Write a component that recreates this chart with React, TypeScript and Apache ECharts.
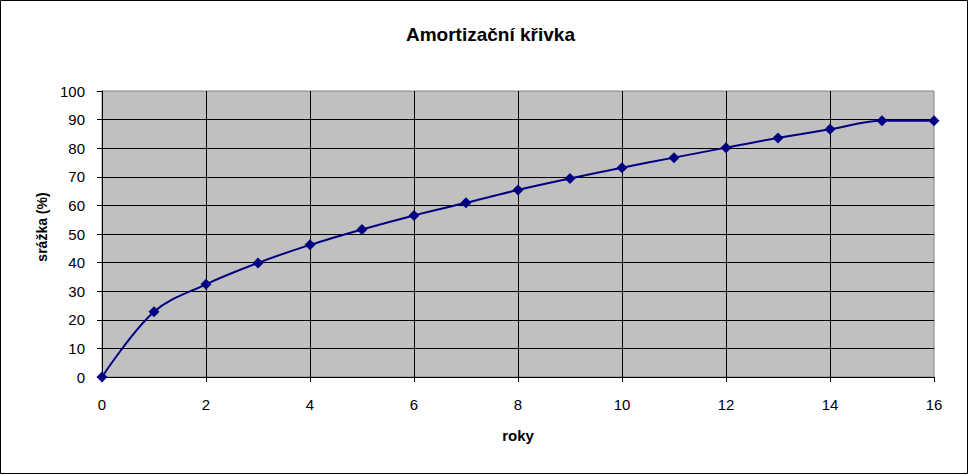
import React, { useEffect, useRef } from "react";
import * as echarts from "echarts";

const years = [0, 1, 2, 3, 4, 5, 6, 7, 8, 9, 10, 11, 12, 13, 14, 15, 16];
const deduction = [0, 22.8, 32.4, 39.9, 46.2, 51.6, 56.5, 60.9, 65.4, 69.4, 73.2, 76.7, 80.2, 83.6, 86.6, 89.6, 89.6];
const titleText = "Amortizační křivka";
const xName = "roky";
const yName = "srážka (%)";

export default function App() {
  const ref = useRef<HTMLDivElement>(null);
  useEffect(() => {
    document.body.style.margin = "0";
    const chart = echarts.init(ref.current!, null, { renderer: "svg" });
    const font = "Liberation Sans, Arial, sans-serif";
    chart.setOption({
      animation: false,
      backgroundColor: "#ffffff",
      textStyle: { fontFamily: font },
      title: {
        text: titleText,
        left: 401,
        top: 20,
        textStyle: { fontFamily: font, fontSize: 19, fontWeight: "bold", color: "#000" },
      },
      graphic: [
        {
          type: "rect",
          shape: { x: 0.5, y: 0.5, width: 967, height: 473 },
          style: { fill: "none", stroke: "#000", lineWidth: 1 },
          silent: true,
        },
      ],
      grid: {
        left: 102,
        right: 35,
        top: 91,
        bottom: 98,
        show: true,
        backgroundColor: "#C0C0C0",
        borderColor: "#808080",
        borderWidth: 1,
      },
      xAxis: {
        type: "value",
        min: 0,
        max: 16,
        interval: 2,
        name: xName,
        nameLocation: "middle",
        nameGap: 51,
        nameTextStyle: { fontFamily: font, fontSize: 15, fontWeight: "bold", color: "#000" },
        axisLine: { show: true, lineStyle: { color: "#000", width: 1 } },
        axisTick: { show: true, length: 5, lineStyle: { color: "#000" } },
        axisLabel: { fontFamily: font, fontSize: 15, color: "#000", margin: 20 },
        splitLine: { show: true, showMinLine: false, showMaxLine: false, lineStyle: { color: "#000", width: 1 } },
      },
      yAxis: {
        type: "value",
        min: 0,
        max: 100,
        interval: 10,
        name: yName,
        nameLocation: "middle",
        nameGap: 52,
        nameTextStyle: { fontFamily: font, fontSize: 14, fontWeight: "bold", color: "#000", padding: [0, 0, 0, 14] },
        axisLine: { show: true, lineStyle: { color: "#000", width: 1 } },
        axisTick: { show: true, length: 5, lineStyle: { color: "#000" } },
        axisLabel: { fontFamily: font, fontSize: 15, color: "#000", margin: 17 },
        splitLine: { show: true, showMinLine: false, showMaxLine: false, lineStyle: { color: "#000", width: 1 } },
      },
      series: [
        {
          type: "line",
          data: years.map((x, i) => [x, deduction[i]]),
          smooth: 0.35,
          symbol: "diamond",
          symbolSize: 11,
          lineStyle: { color: "#000080", width: 2 },
          itemStyle: { color: "#000080" },
        },
      ],
    });
    return () => chart.dispose();
  }, []);
  return <div ref={ref} style={{ width: 969, height: 475 }} />;
}
